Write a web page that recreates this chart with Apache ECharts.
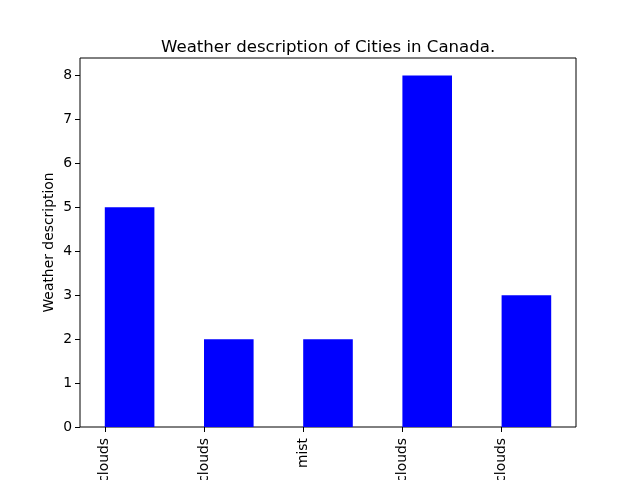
<!DOCTYPE html>
<html>
<head>
<meta charset="utf-8">
<script src="https://cdn.jsdelivr.net/npm/echarts@6/dist/echarts.min.js"></script>
<style>
  html, body { margin: 0; padding: 0; background: #fff; }
  #chart { width: 640px; height: 480px; }
</style>
</head>
<body>
<div id="chart"></div>
<script>
// categories (labels cut off at the bottom in the original)
const categories = ["broken clouds", "few clouds", "mist", "overcast clouds", "scattered clouds"];
const counts = [5, 2, 2, 8, 3];
const yTicks = [0, 1, 2, 3, 4, 5, 6, 7, 8];

let chartDom = document.getElementById("chart");
let myChart = echarts.init(chartDom);

const font = "DejaVu Sans";

let option = {
  animation: false,
  backgroundColor: "#fff",
  title: {
    text: "Weather description of Cities in Canada.",
    left: 156,
    top: 34,
    textStyle: { fontFamily: font, fontSize: 16.6, fontWeight: "normal", color: "#000" },
  },
  grid: {
    left: 80,
    right: 64,
    top: 58,
    bottom: 53,
    containLabel: false,
    outerBoundsMode: "none",
    show: true,
    borderColor: "#000",
    borderWidth: 1,
    backgroundColor: "transparent",
  },
  xAxis: {
    type: "value",
    min: -0.25,
    max: 4.75,
    splitLine: { show: false },
    axisLine: { show: false, onZero: false },
    axisTick: {
      show: true,
      length: 5,
      customValues: categories.map((_, i) => i),
      lineStyle: { color: "#000" },
    },
    axisLabel: {
      customValues: categories.map((_, i) => i),
      formatter: (v) => categories[Math.round(v)],
      rotate: 90,
      margin: 11,
      width: 300,
      overflow: "none",
      hideOverlap: false,
      fontFamily: font,
      fontSize: 13.9,
      color: "#000",
    },
  },
  yAxis: {
    type: "value",
    min: 0,
    max: 8.4,
    name: "Weather description",
    nameLocation: "middle",
    nameGap: 24,
    nameMoveOverlap: false,
    nameTextStyle: { fontFamily: font, fontSize: 13.9, color: "#000" },
    splitLine: { show: false },
    axisLine: { show: false, onZero: false },
    axisTick: {
      show: true,
      length: 5,
      customValues: yTicks,
      lineStyle: { color: "#000" },
    },
    axisLabel: {
      customValues: yTicks,
      margin: 8,
      fontFamily: font,
      fontSize: 13.9,
      color: "#000",
    },
  },
  series: [
    {
      type: "custom",
      data: counts.map((c, i) => [i, c]),
      renderItem: function (params, api) {
        let x0 = api.value(0);
        let y = api.value(1);
        let p0 = api.coord([x0, 0]);
        let p1 = api.coord([x0 + 0.5, y]);
        return {
          type: "rect",
          shape: { x: p0[0], y: p1[1], width: p1[0] - p0[0], height: p0[1] - p1[1] },
          style: { fill: "#0000ff" },
        };
      },
    },
  ],
};

option && myChart.setOption(option);
</script>
</body>
</html>
